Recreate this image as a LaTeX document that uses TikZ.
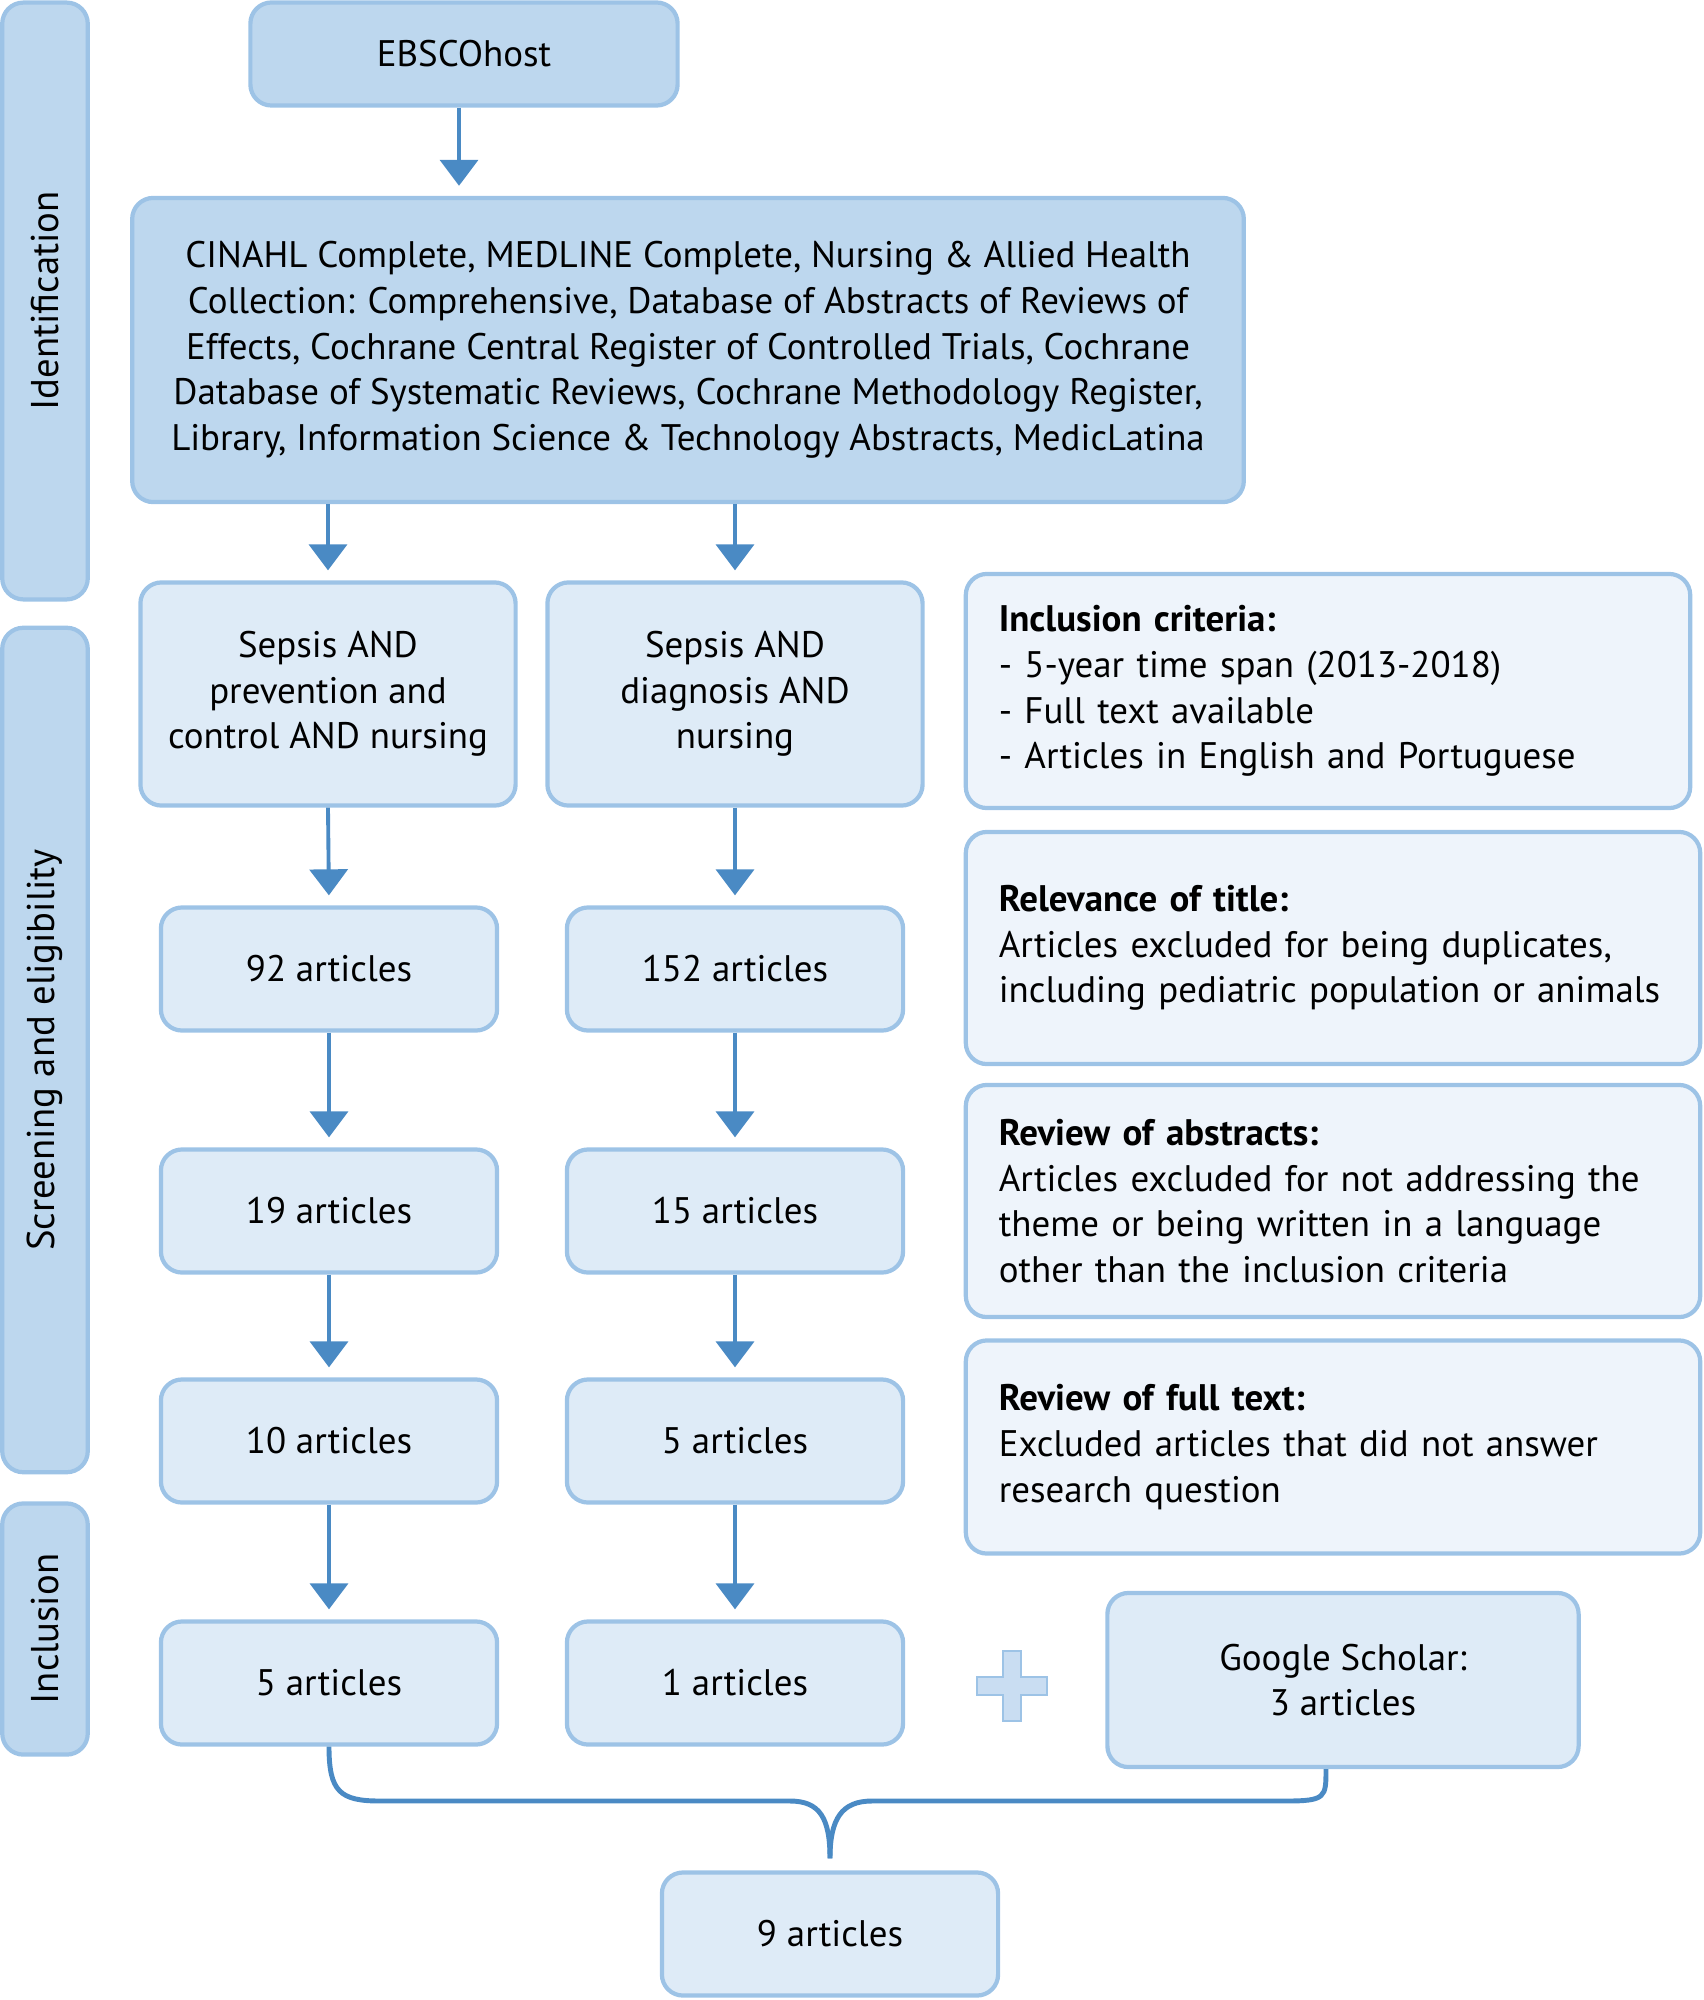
\documentclass[tikz,border=0pt]{standalone}
\usepackage{fontspec}
\setmainfont{PT Sans}
\usetikzlibrary{arrows.meta, positioning}

\definecolor{boxdark}{HTML}{BDD7EE}
\definecolor{boxline}{HTML}{9DC3E6}
\definecolor{boxlight}{HTML}{DEEBF7}
\definecolor{boxpale}{HTML}{EEF4FB}
\definecolor{arrowblue}{HTML}{4A8AC4}
\definecolor{plusblue}{HTML}{C9DDF2}

\tikzset{
  base/.style={draw=boxline, line width=1.2pt, rounded corners=6pt, inner sep=0pt,
    align=center, font=\fontsize{10.5}{13}\selectfont},
  darkbox/.style={base, fill=boxdark},
  lightbox/.style={base, fill=boxlight},
  artbox/.style={lightbox, minimum width=3.36cm, minimum height=1.23cm},
  critbox/.style={base, fill=boxpale, align=left, text width=6.68cm, inner xsep=0.33cm},
  sidebar/.style={darkbox, minimum height=0.855cm, rotate=90,
    font=\fontsize{11}{13}\selectfont},
  arr/.style={draw=arrowblue, line width=1.1pt, shorten >=0.1cm,
    -{Triangle[width=0.38cm, length=0.26cm]}},
  brace/.style={draw=arrowblue, line width=1.4pt}
}

\begin{document}
\begin{tikzpicture}[x=0.01cm, y=-0.01cm]
    \useasboundingbox (0,0) rectangle (1703,2000);

    % side bars
    \node[sidebar, minimum width=5.965cm] (ident) at (45,301) {Identification};
    \node[sidebar, minimum width=8.44cm] (screen) at (45,1050) {Screening and eligibility};
    \node[sidebar, minimum width=2.51cm] (incl) at (45,1629) {Inclusion};

    % identification
    \node[darkbox, minimum width=4.27cm, minimum height=1.03cm] (ebsco) at (464,54) {EBSCOhost};
    \node[darkbox, minimum width=11.11cm, minimum height=3.04cm] (dbs) at (688,350)
      {CINAHL Complete, MEDLINE Complete, Nursing \& Allied Health\\
       Collection: Comprehensive, Database of Abstracts of Reviews of\\
       Effects, Cochrane Central Register of Controlled Trials, Cochrane\\
       Database of Systematic Reviews, Cochrane Methodology Register,\\
       Library, Information Science \& Technology Abstracts, MedicLatina};

    % search strings
    \node[lightbox, minimum width=3.75cm, minimum height=2.23cm] (sep1) at (328,694)
      {Sepsis AND\\ prevention and\\ control AND nursing};
    \node[lightbox, minimum width=3.75cm, minimum height=2.23cm] (sep2) at (735,694)
      {Sepsis AND\\ diagnosis AND\\ nursing};

    % article counts
    \node[artbox] (a92) at (329,969) {92 articles};
    \node[artbox] (a152) at (735,969) {152 articles};
    \node[artbox] (a19) at (329,1211) {19 articles};
    \node[artbox] (a15) at (735,1211) {15 articles};
    \node[artbox] (a10) at (329,1441) {10 articles};
    \node[artbox] (a5) at (735,1441) {5 articles};
    \node[artbox] (f5) at (329,1683) {5 articles};
    \node[artbox] (f1) at (735,1683) {1 articles};
    \node[lightbox, minimum width=4.71cm, minimum height=1.74cm] (google) at (1343,1680)
      {Google Scholar:\\ 3 articles};
    \node[artbox] (nine) at (830,1934) {9 articles};

    % criteria
    \node[critbox, minimum height=2.34cm, text width=6.58cm] (crit) at (1328,691)
      {\textbf{Inclusion criteria:}\\ - 5-year time span (2013-2018)\\ - Full text available\\
       - Articles in English and Portuguese};
    \node[critbox, minimum height=2.32cm] (title) at (1333,948)
      {\textbf{Relevance of title:}\\ Articles excluded for being duplicates,\\
       including pediatric population or animals};
    \node[critbox, minimum height=2.32cm] (abstr) at (1333,1201)
      {\textbf{Review of abstracts:}\\ Articles excluded for not addressing the\\
       theme or being written in a language\\ other than the inclusion criteria};
    \node[critbox, minimum height=2.13cm] (full) at (1333,1447)
      {\textbf{Review of full text:}\\ Excluded articles that did not answer\\ research question};

    % plus
    \fill[plusblue, draw=boxline, line width=0.6pt]
      (1003,1651) -- (1021,1651) -- (1021,1677) -- (1047,1677) -- (1047,1695) -- (1021,1695)
      -- (1021,1721) -- (1003,1721) -- (1003,1695) -- (977,1695) -- (977,1677) -- (1003,1677) -- cycle;

    % arrows
    \draw[arr] (ebsco.south -| 459,0) -- (dbs.north -| 459,0);
    \draw[arr] (dbs.south -| sep1.north) -- (sep1.north);
    \draw[arr] (dbs.south -| sep2.north) -- (sep2.north);
    \foreach \a/\b in {sep1/a92, a92/a19, a19/a10, a10/f5,
                       sep2/a152, a152/a15, a15/a5, a5/f1}
      \draw[arr] (\a.south) -- (\b.north);

    % merging brace
    \coordinate (tip) at ([yshift=0.12cm]nine.north);
    \draw[brace] (f5.south) .. controls +(0,45) and +(-40,0) .. (380,1801)
      -- (790,1801) .. controls +(30,0) and +(0,-40) .. (tip);
    \draw[brace] ([xshift=-0.17cm]google.south) .. controls +(0,28) and +(40,0) .. (1286,1801)
      -- (872,1801) .. controls +(-30,0) and +(0,-40) .. (tip);
\end{tikzpicture}
\end{document}
